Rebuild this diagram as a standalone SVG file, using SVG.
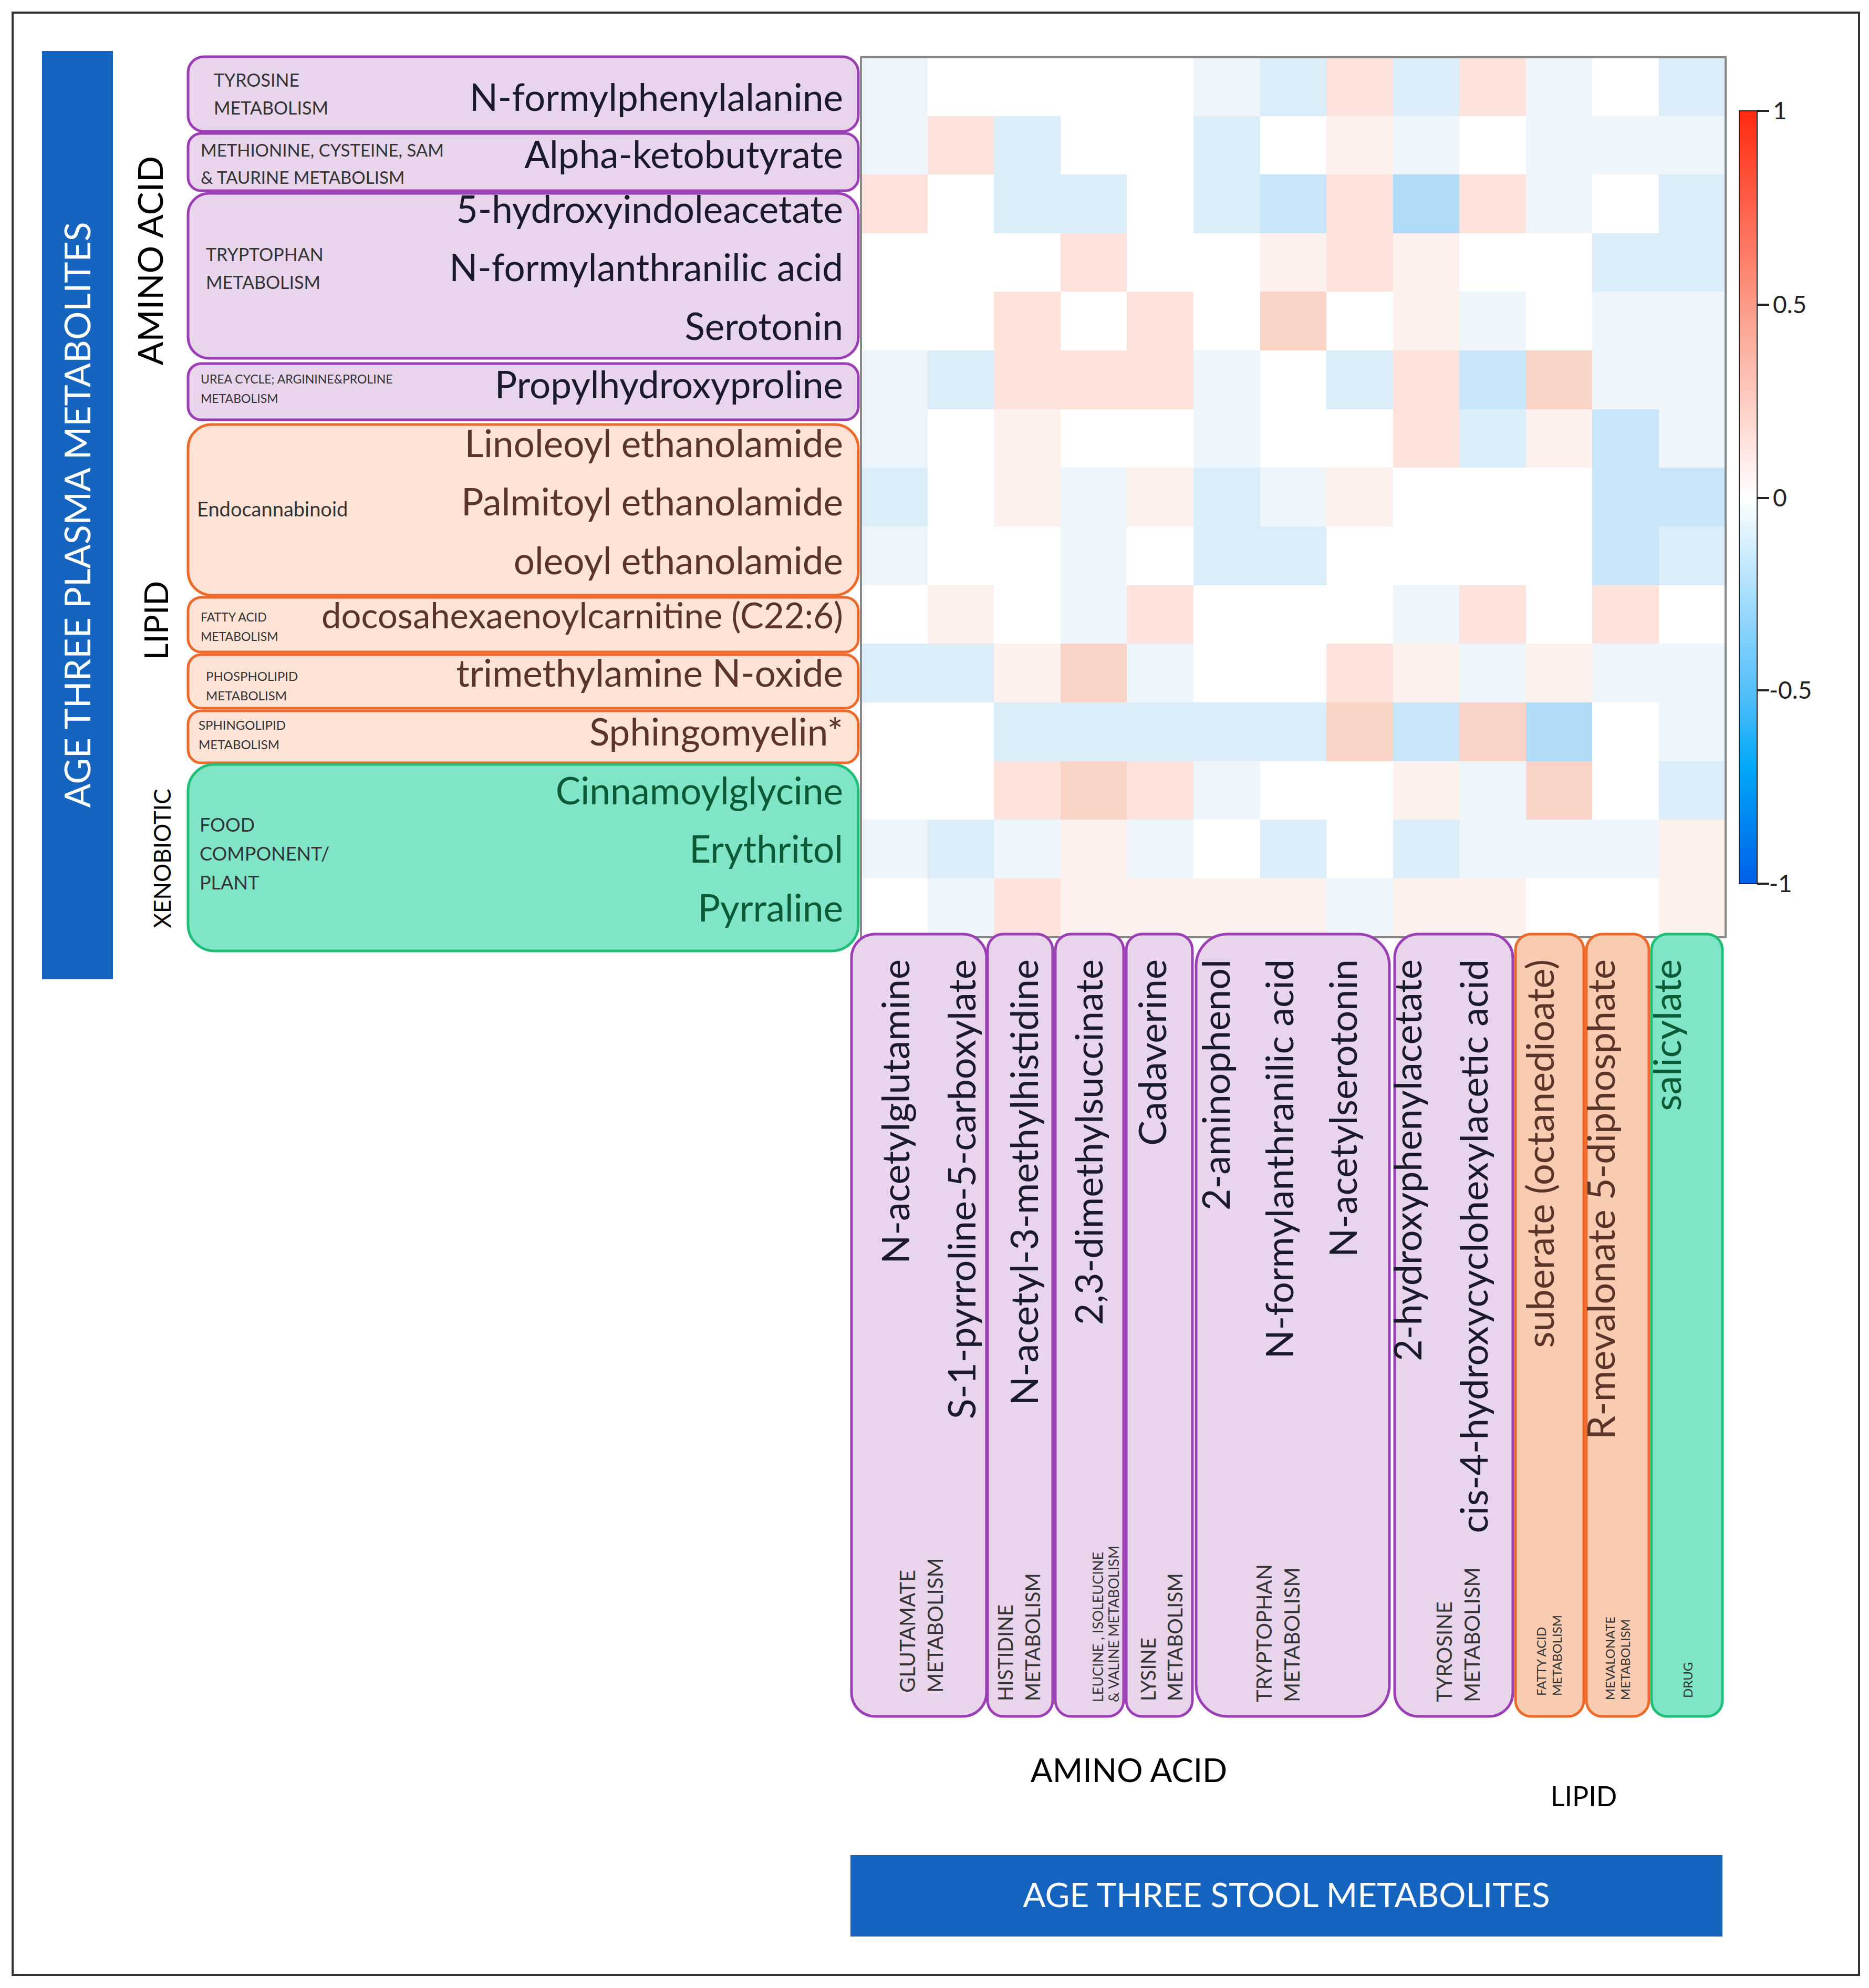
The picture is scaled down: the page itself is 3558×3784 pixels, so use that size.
<svg xmlns="http://www.w3.org/2000/svg" width="3558" height="3784" viewBox="0 0 3558 3784">
<defs>
<linearGradient id="cb" x1="0" y1="0" x2="0" y2="1">
<stop offset="0" stop-color="#ff2a10"/><stop offset="0.25" stop-color="#fb9a86"/><stop offset="0.5" stop-color="#ffffff"/><stop offset="0.78" stop-color="#3fb8f8"/><stop offset="0.85" stop-color="#00a8f8"/><stop offset="1" stop-color="#0060e8"/>
</linearGradient>
<style>
text{font-family:Lato,"Liberation Sans",sans-serif}
.pu{fill:#e8d5ec;stroke:#9b3fb5;stroke-width:5}
.or{fill:#fde3d6;stroke:#ee6a2a;stroke-width:5}
.or2{fill:#f9cbb0;stroke:#ee6a2a;stroke-width:5}
.gr{fill:#80e4c6;stroke:#1fbf78;stroke-width:5}
.met{text-anchor:end}
.ta{fill:#1a1a2a}.tl{fill:#5a3428}.tx{fill:#0a5a36}
.sm{fill:#333}
.bl{text-anchor:end}
.W{fill:#ffffff}.lb{fill:#eef6fc}.b{fill:#dcedfa}.B{fill:#c8e5fa}.BB{fill:#b0dcf8}.lr{fill:#fdf1ed}.r{fill:#fde3dc}.R{fill:#fbd4c8}
</style>
</defs>
<rect x="24" y="24" width="3515" height="3735" fill="#fff" stroke="#333" stroke-width="4"/>
<g id="plasma-bar"><rect x="80" y="97" width="135" height="1767" fill="#1565c0"/>
<text transform="translate(172,980) rotate(-90)" text-anchor="middle" font-size="68" fill="#fff">AGE THREE PLASMA METABOLITES</text></g>
<g id="cat-labels">
<text transform="translate(310,496) rotate(-90)" text-anchor="middle" font-size="66">AMINO ACID</text>
<text transform="translate(320,1181) rotate(-90)" text-anchor="middle" font-size="62">LIPID</text>
<text transform="translate(325,1634) rotate(-90)" text-anchor="middle" font-size="44">XENOBIOTIC</text>
<text x="2149" y="3392" text-anchor="middle" font-size="62">AMINO ACID</text>
<text x="3015" y="3438" text-anchor="middle" font-size="52">LIPID</text>
</g>
<g id="heatcells">
<rect class="lb" x="1639" y="109" width="127" height="112"/><rect class="W" x="1766" y="109" width="127" height="112"/><rect class="W" x="1892" y="109" width="127" height="112"/><rect class="W" x="2019" y="109" width="127" height="112"/><rect class="W" x="2145" y="109" width="127" height="112"/><rect class="lb" x="2272" y="109" width="127" height="112"/><rect class="b" x="2399" y="109" width="127" height="112"/><rect class="r" x="2525" y="109" width="127" height="112"/><rect class="b" x="2652" y="109" width="127" height="112"/><rect class="r" x="2778" y="109" width="127" height="112"/><rect class="lb" x="2905" y="109" width="127" height="112"/><rect class="W" x="3031" y="109" width="127" height="112"/><rect class="b" x="3158" y="109" width="127" height="112"/>
<rect class="lb" x="1639" y="221" width="127" height="112"/><rect class="r" x="1766" y="221" width="127" height="112"/><rect class="b" x="1892" y="221" width="127" height="112"/><rect class="W" x="2019" y="221" width="127" height="112"/><rect class="W" x="2145" y="221" width="127" height="112"/><rect class="b" x="2272" y="221" width="127" height="112"/><rect class="W" x="2399" y="221" width="127" height="112"/><rect class="lr" x="2525" y="221" width="127" height="112"/><rect class="lb" x="2652" y="221" width="127" height="112"/><rect class="W" x="2778" y="221" width="127" height="112"/><rect class="lb" x="2905" y="221" width="127" height="112"/><rect class="lb" x="3031" y="221" width="127" height="112"/><rect class="lb" x="3158" y="221" width="127" height="112"/>
<rect class="r" x="1639" y="332" width="127" height="112"/><rect class="W" x="1766" y="332" width="127" height="112"/><rect class="b" x="1892" y="332" width="127" height="112"/><rect class="b" x="2019" y="332" width="127" height="112"/><rect class="W" x="2145" y="332" width="127" height="112"/><rect class="b" x="2272" y="332" width="127" height="112"/><rect class="B" x="2399" y="332" width="127" height="112"/><rect class="r" x="2525" y="332" width="127" height="112"/><rect class="BB" x="2652" y="332" width="127" height="112"/><rect class="r" x="2778" y="332" width="127" height="112"/><rect class="lb" x="2905" y="332" width="127" height="112"/><rect class="W" x="3031" y="332" width="127" height="112"/><rect class="b" x="3158" y="332" width="127" height="112"/>
<rect class="W" x="1639" y="444" width="127" height="112"/><rect class="W" x="1766" y="444" width="127" height="112"/><rect class="W" x="1892" y="444" width="127" height="112"/><rect class="r" x="2019" y="444" width="127" height="112"/><rect class="W" x="2145" y="444" width="127" height="112"/><rect class="W" x="2272" y="444" width="127" height="112"/><rect class="lr" x="2399" y="444" width="127" height="112"/><rect class="r" x="2525" y="444" width="127" height="112"/><rect class="lr" x="2652" y="444" width="127" height="112"/><rect class="W" x="2778" y="444" width="127" height="112"/><rect class="W" x="2905" y="444" width="127" height="112"/><rect class="b" x="3031" y="444" width="127" height="112"/><rect class="b" x="3158" y="444" width="127" height="112"/>
<rect class="W" x="1639" y="555" width="127" height="112"/><rect class="W" x="1766" y="555" width="127" height="112"/><rect class="r" x="1892" y="555" width="127" height="112"/><rect class="W" x="2019" y="555" width="127" height="112"/><rect class="r" x="2145" y="555" width="127" height="112"/><rect class="W" x="2272" y="555" width="127" height="112"/><rect class="R" x="2399" y="555" width="127" height="112"/><rect class="W" x="2525" y="555" width="127" height="112"/><rect class="lr" x="2652" y="555" width="127" height="112"/><rect class="lb" x="2778" y="555" width="127" height="112"/><rect class="W" x="2905" y="555" width="127" height="112"/><rect class="lb" x="3031" y="555" width="127" height="112"/><rect class="lb" x="3158" y="555" width="127" height="112"/>
<rect class="lb" x="1639" y="667" width="127" height="112"/><rect class="b" x="1766" y="667" width="127" height="112"/><rect class="r" x="1892" y="667" width="127" height="112"/><rect class="r" x="2019" y="667" width="127" height="112"/><rect class="r" x="2145" y="667" width="127" height="112"/><rect class="lb" x="2272" y="667" width="127" height="112"/><rect class="W" x="2399" y="667" width="127" height="112"/><rect class="b" x="2525" y="667" width="127" height="112"/><rect class="r" x="2652" y="667" width="127" height="112"/><rect class="B" x="2778" y="667" width="127" height="112"/><rect class="R" x="2905" y="667" width="127" height="112"/><rect class="lb" x="3031" y="667" width="127" height="112"/><rect class="lb" x="3158" y="667" width="127" height="112"/>
<rect class="lb" x="1639" y="779" width="127" height="112"/><rect class="W" x="1766" y="779" width="127" height="112"/><rect class="lr" x="1892" y="779" width="127" height="112"/><rect class="W" x="2019" y="779" width="127" height="112"/><rect class="W" x="2145" y="779" width="127" height="112"/><rect class="lb" x="2272" y="779" width="127" height="112"/><rect class="W" x="2399" y="779" width="127" height="112"/><rect class="W" x="2525" y="779" width="127" height="112"/><rect class="r" x="2652" y="779" width="127" height="112"/><rect class="b" x="2778" y="779" width="127" height="112"/><rect class="lr" x="2905" y="779" width="127" height="112"/><rect class="B" x="3031" y="779" width="127" height="112"/><rect class="lb" x="3158" y="779" width="127" height="112"/>
<rect class="b" x="1639" y="890" width="127" height="112"/><rect class="W" x="1766" y="890" width="127" height="112"/><rect class="lr" x="1892" y="890" width="127" height="112"/><rect class="lb" x="2019" y="890" width="127" height="112"/><rect class="lr" x="2145" y="890" width="127" height="112"/><rect class="b" x="2272" y="890" width="127" height="112"/><rect class="lb" x="2399" y="890" width="127" height="112"/><rect class="lr" x="2525" y="890" width="127" height="112"/><rect class="W" x="2652" y="890" width="127" height="112"/><rect class="W" x="2778" y="890" width="127" height="112"/><rect class="W" x="2905" y="890" width="127" height="112"/><rect class="B" x="3031" y="890" width="127" height="112"/><rect class="B" x="3158" y="890" width="127" height="112"/>
<rect class="lb" x="1639" y="1002" width="127" height="112"/><rect class="W" x="1766" y="1002" width="127" height="112"/><rect class="W" x="1892" y="1002" width="127" height="112"/><rect class="lb" x="2019" y="1002" width="127" height="112"/><rect class="W" x="2145" y="1002" width="127" height="112"/><rect class="b" x="2272" y="1002" width="127" height="112"/><rect class="b" x="2399" y="1002" width="127" height="112"/><rect class="W" x="2525" y="1002" width="127" height="112"/><rect class="W" x="2652" y="1002" width="127" height="112"/><rect class="W" x="2778" y="1002" width="127" height="112"/><rect class="W" x="2905" y="1002" width="127" height="112"/><rect class="B" x="3031" y="1002" width="127" height="112"/><rect class="b" x="3158" y="1002" width="127" height="112"/>
<rect class="W" x="1639" y="1114" width="127" height="112"/><rect class="lr" x="1766" y="1114" width="127" height="112"/><rect class="W" x="1892" y="1114" width="127" height="112"/><rect class="lb" x="2019" y="1114" width="127" height="112"/><rect class="r" x="2145" y="1114" width="127" height="112"/><rect class="W" x="2272" y="1114" width="127" height="112"/><rect class="W" x="2399" y="1114" width="127" height="112"/><rect class="W" x="2525" y="1114" width="127" height="112"/><rect class="lb" x="2652" y="1114" width="127" height="112"/><rect class="r" x="2778" y="1114" width="127" height="112"/><rect class="W" x="2905" y="1114" width="127" height="112"/><rect class="r" x="3031" y="1114" width="127" height="112"/><rect class="W" x="3158" y="1114" width="127" height="112"/>
<rect class="b" x="1639" y="1225" width="127" height="112"/><rect class="b" x="1766" y="1225" width="127" height="112"/><rect class="lr" x="1892" y="1225" width="127" height="112"/><rect class="R" x="2019" y="1225" width="127" height="112"/><rect class="lb" x="2145" y="1225" width="127" height="112"/><rect class="W" x="2272" y="1225" width="127" height="112"/><rect class="W" x="2399" y="1225" width="127" height="112"/><rect class="r" x="2525" y="1225" width="127" height="112"/><rect class="lr" x="2652" y="1225" width="127" height="112"/><rect class="lb" x="2778" y="1225" width="127" height="112"/><rect class="lr" x="2905" y="1225" width="127" height="112"/><rect class="lb" x="3031" y="1225" width="127" height="112"/><rect class="lb" x="3158" y="1225" width="127" height="112"/>
<rect class="W" x="1639" y="1337" width="127" height="112"/><rect class="W" x="1766" y="1337" width="127" height="112"/><rect class="b" x="1892" y="1337" width="127" height="112"/><rect class="b" x="2019" y="1337" width="127" height="112"/><rect class="b" x="2145" y="1337" width="127" height="112"/><rect class="b" x="2272" y="1337" width="127" height="112"/><rect class="b" x="2399" y="1337" width="127" height="112"/><rect class="R" x="2525" y="1337" width="127" height="112"/><rect class="B" x="2652" y="1337" width="127" height="112"/><rect class="R" x="2778" y="1337" width="127" height="112"/><rect class="BB" x="2905" y="1337" width="127" height="112"/><rect class="W" x="3031" y="1337" width="127" height="112"/><rect class="lb" x="3158" y="1337" width="127" height="112"/>
<rect class="W" x="1639" y="1449" width="127" height="112"/><rect class="W" x="1766" y="1449" width="127" height="112"/><rect class="r" x="1892" y="1449" width="127" height="112"/><rect class="R" x="2019" y="1449" width="127" height="112"/><rect class="r" x="2145" y="1449" width="127" height="112"/><rect class="lb" x="2272" y="1449" width="127" height="112"/><rect class="W" x="2399" y="1449" width="127" height="112"/><rect class="W" x="2525" y="1449" width="127" height="112"/><rect class="lr" x="2652" y="1449" width="127" height="112"/><rect class="lb" x="2778" y="1449" width="127" height="112"/><rect class="R" x="2905" y="1449" width="127" height="112"/><rect class="W" x="3031" y="1449" width="127" height="112"/><rect class="b" x="3158" y="1449" width="127" height="112"/>
<rect class="lb" x="1639" y="1560" width="127" height="112"/><rect class="b" x="1766" y="1560" width="127" height="112"/><rect class="lb" x="1892" y="1560" width="127" height="112"/><rect class="lr" x="2019" y="1560" width="127" height="112"/><rect class="lb" x="2145" y="1560" width="127" height="112"/><rect class="W" x="2272" y="1560" width="127" height="112"/><rect class="b" x="2399" y="1560" width="127" height="112"/><rect class="W" x="2525" y="1560" width="127" height="112"/><rect class="b" x="2652" y="1560" width="127" height="112"/><rect class="lb" x="2778" y="1560" width="127" height="112"/><rect class="lb" x="2905" y="1560" width="127" height="112"/><rect class="lb" x="3031" y="1560" width="127" height="112"/><rect class="lr" x="3158" y="1560" width="127" height="112"/>
<rect class="W" x="1639" y="1672" width="127" height="112"/><rect class="lb" x="1766" y="1672" width="127" height="112"/><rect class="r" x="1892" y="1672" width="127" height="112"/><rect class="lr" x="2019" y="1672" width="127" height="112"/><rect class="lr" x="2145" y="1672" width="127" height="112"/><rect class="lr" x="2272" y="1672" width="127" height="112"/><rect class="lr" x="2399" y="1672" width="127" height="112"/><rect class="lb" x="2525" y="1672" width="127" height="112"/><rect class="lr" x="2652" y="1672" width="127" height="112"/><rect class="lr" x="2778" y="1672" width="127" height="112"/><rect class="W" x="2905" y="1672" width="127" height="112"/><rect class="W" x="3031" y="1672" width="127" height="112"/><rect class="lr" x="3158" y="1672" width="127" height="112"/>
<rect x="1639" y="109" width="1646" height="1675" fill="none" stroke="#888" stroke-width="4"/>
</g>
<g id="colorbar">
<rect x="3311" y="211" width="34" height="1471" fill="url(#cb)" stroke="#222" stroke-width="2"/>
<g stroke="#222" stroke-width="4"><line x1="3345" y1="211" x2="3368" y2="211"/><line x1="3345" y1="580" x2="3368" y2="580"/><line x1="3345" y1="948" x2="3368" y2="948"/><line x1="3345" y1="1314" x2="3368" y2="1314"/><line x1="3345" y1="1682" x2="3368" y2="1682"/></g>
<g font-size="46" fill="#222"><text x="3375" y="227">1</text><text x="3375" y="596">0.5</text><text x="3375" y="964">0</text><text x="3368" y="1330">-0.5</text><text x="3368" y="1698">-1</text></g>
</g>
<g id="left-tyrosine"><rect class="pu" x="358" y="108" width="1276" height="142" rx="30"/><text class="sm" font-size="34" x="407" y="165">TYROSINE</text><text class="sm" font-size="34" x="407" y="218">METABOLISM</text><text class="met ta" font-size="71" x="1605" y="211">N-formylphenylalanine</text></g>
<g id="left-methionine"><rect class="pu" x="358" y="254" width="1276" height="109" rx="25"/><text class="sm" x="382" y="298" font-size="33">METHIONINE, CYSTEINE, SAM</text><text class="sm" x="382" y="350" font-size="33">&amp; TAURINE METABOLISM</text><text class="met ta" font-size="71" x="1605" y="320">Alpha-ketobutyrate</text></g>
<g id="left-tryptophan"><rect class="pu" x="358" y="368" width="1276" height="314" rx="40"/><text class="sm" font-size="34" x="392" y="497">TRYPTOPHAN</text><text class="sm" font-size="34" x="392" y="550">METABOLISM</text><text class="met ta" font-size="71" x="1605" y="424">5-hydroxyindoleacetate</text><text class="met ta" font-size="71" x="1605" y="535">N-formylanthranilic acid</text><text class="met ta" font-size="71" x="1605" y="647">Serotonin</text></g>
<g id="left-urea"><rect class="pu" x="358" y="692" width="1276" height="107" rx="25"/><text class="sm" x="382" y="730" font-size="23">UREA CYCLE; ARGININE&amp;PROLINE</text><text class="sm" x="382" y="767" font-size="23">METABOLISM</text><text class="met ta" font-size="71" x="1605" y="758">Propylhydroxyproline</text></g>
<g id="left-endocannabinoid"><rect class="or" x="358" y="808" width="1276" height="325" rx="45"/><text class="sm" x="375" y="983" font-size="38">Endocannabinoid</text><text class="met tl" font-size="71" x="1605" y="870">Linoleoyl ethanolamide</text><text class="met tl" font-size="71" x="1605" y="981">Palmitoyl ethanolamide</text><text class="met tl" font-size="71" x="1605" y="1093">oleoyl ethanolamide</text></g>
<g id="left-fattyacid"><rect class="or" x="358" y="1137" width="1276" height="104" rx="25"/><text class="sm" x="382" y="1183" font-size="23">FATTY ACID</text><text class="sm" x="382" y="1220" font-size="23">METABOLISM</text><text class="met tl" x="1605" y="1196" font-size="67">docosahexaenoylcarnitine (C22:6)</text></g>
<g id="left-phospholipid"><rect class="or" x="358" y="1246" width="1276" height="102" rx="25"/><text class="sm" x="392" y="1296" font-size="24">PHOSPHOLIPID</text><text class="sm" x="392" y="1333" font-size="24">METABOLISM</text><text class="met tl" font-size="71" x="1605" y="1307">trimethylamine N-oxide</text></g>
<g id="left-sphingolipid"><rect class="or" x="358" y="1353" width="1276" height="99" rx="25"/><text class="sm" x="378" y="1389" font-size="24">SPHINGOLIPID</text><text class="sm" x="378" y="1426" font-size="24">METABOLISM</text><text class="met tl" font-size="71" x="1605" y="1419">Sphingomyelin*</text></g>
<g id="left-food"><rect class="gr" x="358" y="1455" width="1276" height="355" rx="50"/><text class="sm" x="380" y="1583" font-size="36">FOOD</text><text class="sm" x="380" y="1638" font-size="36">COMPONENT/</text><text class="sm" x="380" y="1693" font-size="36">PLANT</text><text class="met tx" font-size="71" x="1605" y="1531">Cinnamoylglycine</text><text class="met tx" font-size="71" x="1605" y="1642">Erythritol</text><text class="met tx" font-size="71" x="1605" y="1754">Pyrraline</text></g>
<g id="bottom-glutamate"><rect class="pu" x="1621" y="1778" width="257" height="1489" rx="45"/><text class="bl ta" font-size="72" transform="translate(1731,1826) rotate(-90)">N-acetylglutamine</text><text class="bl ta" font-size="72" transform="translate(1857,1826) rotate(-90)">S-1-pyrroline-5-carboxylate</text><text class="sm" font-size="40" transform="translate(1742,3222) rotate(-90)">GLUTAMATE</text><text class="sm" font-size="40" transform="translate(1795,3222) rotate(-90)">METABOLISM</text></g>
<g id="bottom-histidine"><rect class="pu" x="1880" y="1778" width="124" height="1489" rx="30"/><text class="bl ta" font-size="72" transform="translate(1976,1826) rotate(-90)">N-acetyl-3-methylhistidine</text><text class="sm" font-size="38" transform="translate(1928,3238) rotate(-90)">HISTIDINE</text><text class="sm" font-size="38" transform="translate(1980,3238) rotate(-90)">METABOLISM</text></g>
<g id="bottom-leucine"><rect class="pu" x="2009" y="1778" width="130" height="1489" rx="30"/><text class="bl ta" font-size="72" transform="translate(2099,1826) rotate(-90)">2,3-dimethylsuccinate</text><text class="sm" font-size="27" transform="translate(2100,3240) rotate(-90)">LEUCINE , ISOLEUCINE</text><text class="sm" font-size="27" transform="translate(2130,3240) rotate(-90)">&amp; VALINE METABOLISM</text></g>
<g id="bottom-lysine"><rect class="pu" x="2144" y="1778" width="126" height="1489" rx="30"/><text class="bl ta" font-size="72" transform="translate(2220,1826) rotate(-90)">Cadaverine</text><text class="sm" font-size="38" transform="translate(2200,3238) rotate(-90)">LYSINE</text><text class="sm" font-size="38" transform="translate(2251,3238) rotate(-90)">METABOLISM</text></g>
<g id="bottom-tryptophan"><rect class="pu" x="2277" y="1778" width="368" height="1489" rx="60"/><text class="bl ta" font-size="72" transform="translate(2341,1826) rotate(-90)">2-aminophenol</text><text class="bl ta" font-size="72" transform="translate(2462,1826) rotate(-90)">N-formylanthranilic acid</text><text class="bl ta" font-size="72" transform="translate(2583,1826) rotate(-90)">N-acetylserotonin</text><text class="sm" font-size="40" transform="translate(2421,3240) rotate(-90)">TRYPTOPHAN</text><text class="sm" font-size="40" transform="translate(2474,3240) rotate(-90)">METABOLISM</text></g>
<g id="bottom-tyrosine"><rect class="pu" x="2655" y="1778" width="225" height="1489" rx="45"/><text class="bl ta" font-size="72" transform="translate(2706,1826) rotate(-90)">2-hydroxyphenylacetate</text><text class="bl ta" font-size="72" transform="translate(2832,1826) rotate(-90)">cis-4-hydroxycyclohexylacetic acid</text><text class="sm" font-size="40" transform="translate(2764,3240) rotate(-90)">TYROSINE</text><text class="sm" font-size="40" transform="translate(2817,3240) rotate(-90)">METABOLISM</text></g>
<g id="bottom-fattyacid"><rect class="or2" x="2885" y="1778" width="130" height="1489" rx="30"/><text class="bl tl" font-size="72" transform="translate(2958,1826) rotate(-90)">suberate (octanedioate)</text><text class="sm" font-size="24" transform="translate(2943,3228) rotate(-90)">FATTY ACID</text><text class="sm" font-size="24" transform="translate(2973,3228) rotate(-90)">METABOLISM</text></g>
<g id="bottom-mevalonate"><rect class="or2" x="3020" y="1778" width="119" height="1489" rx="30"/><text class="bl tl" font-size="72" transform="translate(3074,1826) rotate(-90)">R-mevalonate 5-diphosphate</text><text class="sm" font-size="24" transform="translate(3074,3236) rotate(-90)">MEVALONATE</text><text class="sm" font-size="24" transform="translate(3103,3236) rotate(-90)">METABOLISM</text></g>
<g id="bottom-drug"><rect class="gr" x="3144" y="1778" width="135" height="1489" rx="30"/><text class="bl tx" font-size="72" transform="translate(3200,1826) rotate(-90)">salicylate</text><text class="sm" font-size="24" transform="translate(3222,3232) rotate(-90)">DRUG</text></g>
<g id="stool-bar"><rect x="1619" y="3531" width="1660" height="155" fill="#1565c0"/><text x="2449" y="3630" text-anchor="middle" font-size="64" fill="#fff">AGE THREE STOOL METABOLITES</text></g>
<g id="connectors"></g>
</svg>
